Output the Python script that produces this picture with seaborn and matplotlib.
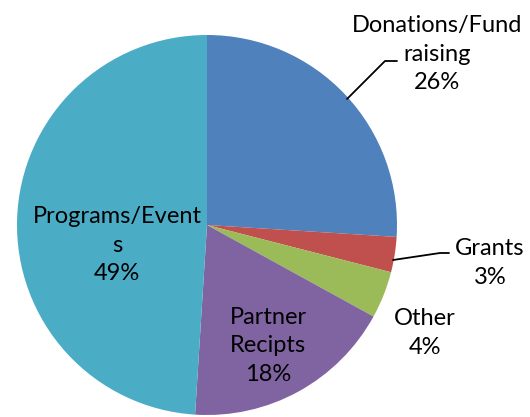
import matplotlib
matplotlib.use("Agg")
import matplotlib.pyplot as plt
import seaborn as sns

categories = ["Donations/Fund\nraising", "Grants", "Other", "Partner\nRecipts", "Programs/Event\ns"]
shares = [26, 3, 4, 18, 49]
colors = ["#4F81BD", "#C0504D", "#9BBB59", "#8064A2", "#4BACC6"]

sns.set_style("white")
plt.rcParams["font.family"] = ["Lato", "DejaVu Sans"]

fig = plt.figure(figsize=(5.30, 4.17), dpi=100)
ax = fig.add_axes([0, 0, 1, 1])

cx, cy, r = 207, 417 - 225, 190
ax.pie(shares, colors=colors, startangle=90, counterclock=False,
       center=(cx, cy), radius=r, frame=True,
       wedgeprops=dict(linewidth=0))
ax.set_xlim(0, 530)
ax.set_ylim(0, 417)
ax.set_aspect("equal")
ax.axis("off")

# label positions (pixels from top-left), Excel-style layout
label_pos = [(437, 54), (490, 263), (425, 333), (268, 346), (117, 245)]
for name, val, (x, y) in zip(categories, shares, label_pos):
    ax.text(x, 417 - y, f"{name}\n{val}%", ha="center", va="center",
            fontsize=17, linespacing=1.45, color="black")

# leader lines
ax.plot([347, 385, 397], [417 - 99, 417 - 61, 417 - 61], color="black", lw=1.3)
ax.plot([393, 440, 449], [417 - 260, 417 - 253, 417 - 253], color="black", lw=1.3)

fig.savefig("out.png", dpi=100)
